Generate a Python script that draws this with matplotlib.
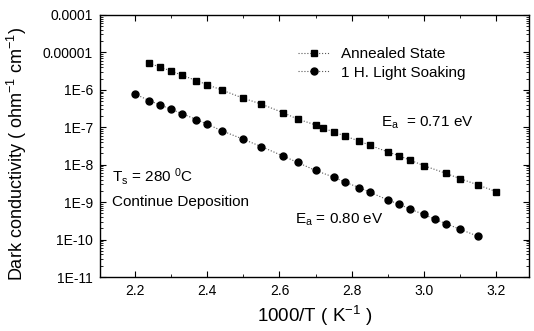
import matplotlib
matplotlib.use("Agg")
import matplotlib.pyplot as plt
from matplotlib.ticker import LogLocator, MultipleLocator, NullFormatter

plt.rcParams['font.family'] = ['Liberation Sans', 'DejaVu Sans']
plt.rcParams['mathtext.fontset'] = 'custom'
plt.rcParams['mathtext.rm'] = 'Liberation Sans'
plt.rcParams['mathtext.it'] = 'Liberation Sans:italic'

# annealed state (squares)
x_ann = [2.24, 2.27, 2.30, 2.33, 2.37, 2.40, 2.44, 2.50, 2.55, 2.61, 2.65, 2.70, 2.72,
         2.75, 2.78, 2.82, 2.85, 2.90, 2.93, 2.96, 3.00, 3.06, 3.10, 3.15, 3.20]
s_ann = [5.13e-6, 4.01e-6, 3.19e-6, 2.45e-6, 1.76e-6, 1.37e-6, 9.9e-7, 5.96e-7, 4.14e-7,
         2.45e-7, 1.66e-7, 1.15e-7, 9.4e-8, 7.6e-8, 5.85e-8, 4.31e-8, 3.30e-8, 2.19e-8,
         1.74e-8, 1.34e-8, 9.4e-9, 5.9e-9, 4.23e-9, 2.87e-9, 1.90e-9]

# after 1 h light soaking (circles)
x_ls = [2.20, 2.24, 2.27, 2.30, 2.33, 2.37, 2.40, 2.44, 2.50, 2.55, 2.61, 2.65, 2.70,
        2.75, 2.78, 2.82, 2.85, 2.90, 2.93, 2.96, 3.00, 3.03, 3.06, 3.10, 3.15]
s_ls = [7.74e-7, 5.13e-7, 3.94e-7, 3.03e-7, 2.31e-7, 1.61e-7, 1.21e-7, 8.1e-8, 4.78e-8,
        3.03e-8, 1.71e-8, 1.15e-8, 7.0e-9, 4.65e-9, 3.45e-9, 2.46e-9, 1.85e-9, 1.14e-9,
        8.9e-10, 6.6e-10, 4.68e-10, 3.48e-10, 2.69e-10, 1.88e-10, 1.22e-10]

yticks = [1e-4, 1e-5, 1e-6, 1e-7, 1e-8, 1e-9, 1e-10, 1e-11]
ylabels = ['0.0001', '0.00001', '1E-6', '1E-7', '1E-8', '1E-9', '1E-10', '1E-11']
xticks = [2.2, 2.4, 2.6, 2.8, 3.0, 3.2]
xlabels = ['2.2', '2.4', '2.6', '2.8', '3.0', '3.2']

fig = plt.figure(figsize=(5.34, 3.31), dpi=100)
ax = fig.add_axes([0.187, 0.163, 0.804, 0.792])

ax.plot(x_ann, s_ann, ls=':', lw=0.8, color='0.35', marker='s', ms=4.5,
        mfc='black', mec='black', label='Annealed State')
ax.plot(x_ls, s_ls, ls=':', lw=0.8, color='0.35', marker='o', ms=5.0,
        mfc='black', mec='black', label='1 H. Light Soaking')

ax.set_yscale('log')
ax.set_xlim(2.103, 3.291)
ax.set_ylim(1e-11, 1e-4)
ax.set_yticks(yticks, ylabels)
ax.yaxis.set_minor_locator(LogLocator(base=10, subs=range(2, 10), numticks=20))
ax.yaxis.set_minor_formatter(NullFormatter())
ax.set_xticks(xticks, xlabels)
ax.xaxis.set_minor_locator(MultipleLocator(0.1))

ax.tick_params(which='both', direction='in', top=True, right=True, labelsize=10, pad=5)
ax.tick_params(which='major', length=4, width=0.8)
ax.tick_params(which='minor', length=2, width=0.6)
for sp in ax.spines.values():
    sp.set_linewidth(1.0)

ax.set_xlabel(r'1000/T ( K$^{\mathrm{-1}}$ )', fontsize=13.5)
ax.set_ylabel(r'Dark conductivity ( ohm$^{\mathrm{-1}}$ cm$^{\mathrm{-1}}$)', fontsize=13)
ax.yaxis.set_label_coords(-0.165, 0.47)

ax.legend(loc='upper left', bbox_to_anchor=(0.448, 0.9), frameon=False, fontsize=11,
          handlelength=2.0, handletextpad=0.8, labelspacing=0.3, borderaxespad=0)

ax.text(0.655, 0.588, r'E$_\mathrm{a}$  = 0.71 eV', transform=ax.transAxes,
        fontsize=11, va='center')
ax.text(0.455, 0.218, r'E$_\mathrm{a}$ = 0.80 eV', transform=ax.transAxes,
        fontsize=11, va='center')
ax.text(0.028, 0.385, r'T$_\mathrm{s}$ = 280 $^\mathrm{0}$C', transform=ax.transAxes,
        fontsize=11, va='center')
ax.text(0.028, 0.286, 'Continue Deposition', transform=ax.transAxes,
        fontsize=11, va='center')

fig.savefig('out.png', dpi=100)
